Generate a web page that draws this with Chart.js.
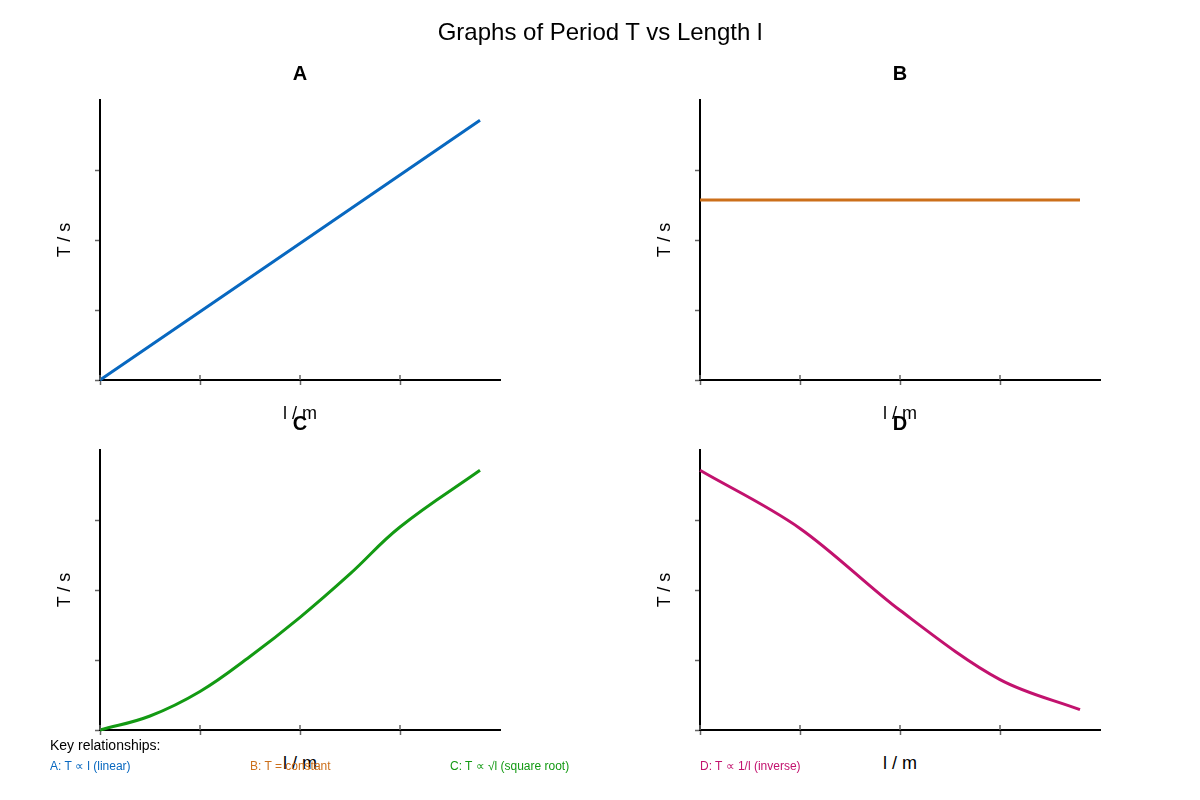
<!DOCTYPE html>
<html>
<head>
<meta charset="utf-8">
<script src="https://cdn.jsdelivr.net/npm/chart.js@4"></script>
<style>
  body { margin: 0; background: #fff; }
  #page { position: relative; width: 1200px; height: 800px; font-family: "Liberation Sans", Arial, sans-serif; }
  .panel { position: absolute; width: 600px; height: 400px; }
  .txt { position: absolute; white-space: nowrap; transform: translate(-50%, -50%); z-index: 5; color: #000; }
  .rot { transform: translate(-50%, -50%) rotate(-90deg); }
  .key { position: absolute; white-space: nowrap; font-size: 12px; transform: translateY(-50%); z-index: 5; }
</style>
</head>
<body>
<div id="page">
  <div class="panel" style="left:0;top:0"><canvas id="chartA" width="600" height="400"></canvas></div>
  <div class="panel" style="left:600px;top:0"><canvas id="chartB" width="600" height="400"></canvas></div>
  <div class="panel" style="left:0;top:350px"><canvas id="chartC" width="600" height="400"></canvas></div>
  <div class="panel" style="left:600px;top:350px"><canvas id="chartD" width="600" height="400"></canvas></div>

  <div class="txt" style="left:600px;top:32px;font-size:24px">Graphs of Period T vs Length l</div>

  <div class="txt" style="left:300px;top:73px;font-size:20px;font-weight:bold">A</div>
  <div class="txt" style="left:900px;top:73px;font-size:20px;font-weight:bold">B</div>
  <div class="txt" style="left:300px;top:423px;font-size:20px;font-weight:bold">C</div>
  <div class="txt" style="left:900px;top:423px;font-size:20px;font-weight:bold">D</div>

  <div class="txt rot" style="left:64px;top:240px;font-size:18px">T / s</div>
  <div class="txt rot" style="left:664px;top:240px;font-size:18px">T / s</div>
  <div class="txt rot" style="left:64px;top:590px;font-size:18px">T / s</div>
  <div class="txt rot" style="left:664px;top:590px;font-size:18px">T / s</div>

  <div class="txt" style="left:300px;top:413px;font-size:18px">l / m</div>
  <div class="txt" style="left:900px;top:413px;font-size:18px">l / m</div>
  <div class="txt" style="left:300px;top:763px;font-size:18px">l / m</div>
  <div class="txt" style="left:900px;top:763px;font-size:18px">l / m</div>

  <div class="key" style="left:50px;top:745px;font-size:14px;color:#000">Key relationships:</div>
  <div class="key" style="left:50px;top:766px;color:#0868c0">A: T ∝ l (linear)</div>
  <div class="key" style="left:250px;top:766px;color:#cc6f1a">B: T = constant</div>
  <div class="key" style="left:450px;top:766px;color:#139a13">C: T ∝ √l (square root)</div>
  <div class="key" style="left:700px;top:766px;color:#c2126e">D: T ∝ 1/l (inverse)</div>
</div>

<script>
// length l (m) and period T (s)
var lenA = [0, 3.8];
var periodA = [0, 3.71];

var lenB = [0, 3.8];
var periodB = [2.57, 2.57];

var lenC = [0, 0.5, 1, 1.5, 2, 2.5, 3, 3.8];
var periodC = [0, 0.2, 0.55, 1.05, 1.61, 2.23, 2.9, 3.71];

var lenD = [0, 1, 2, 3, 3.8];
var periodD = [3.71, 2.88, 1.71, 0.72, 0.29];

var axisMax = 4;
var tickGray = '#666';

function points(xs, ys) {
    return xs.map(function(x, i) { return { x: x, y: ys[i] }; });
}

function tickColor(ctx) {
    return ctx.tick && ctx.tick.value === axisMax ? 'rgba(0,0,0,0)' : tickGray;
}

function axis() {
    return {
        type: 'linear',
        min: 0,
        max: axisMax,
        ticks: { display: false, stepSize: 1 },
        grid: { display: true, drawOnChartArea: false, drawTicks: true, tickLength: 5, tickWidth: 1.5, tickColor: tickColor },
        border: { display: true, color: '#000', width: 2 }
    };
}

// the x ticks also poke a little way into the plot, like the original
var innerTicks = {
    id: 'innerTicks',
    afterDraw: function(chart) {
        var ctx = chart.ctx;
        var xs = chart.scales.x;
        var base = chart.chartArea.bottom;
        ctx.save();
        ctx.strokeStyle = tickGray;
        ctx.lineWidth = 1.5;
        xs.ticks.forEach(function(t) {
            if (t.value === axisMax) return;
            var px = xs.getPixelForValue(t.value);
            ctx.beginPath();
            ctx.moveTo(px, base);
            ctx.lineTo(px, base - 5);
            ctx.stroke();
        });
        ctx.restore();
    }
};

function makeChart(id, xs, ys, color, mode) {
    var ctx = document.getElementById(id).getContext("2d");
    return new Chart(ctx, {
        type: 'line',
        data: {
            datasets: [{
                data: points(xs, ys),
                borderColor: color,
                borderWidth: 3,
                pointRadius: 0,
                tension: 0.4,
                cubicInterpolationMode: mode,
                clip: false
            }]
        },
        options: {
            responsive: false,
            animation: false,
            layout: { padding: { left: 95, top: 100, right: 100, bottom: 15 } },
            plugins: { legend: { display: false }, tooltip: { enabled: false } },
            scales: { x: axis(), y: axis() }
        },
        plugins: [innerTicks]
    });
}

makeChart("chartA", lenA, periodA, "#0868c0", 'monotone');
makeChart("chartB", lenB, periodB, "#cc6f1a", 'monotone');
makeChart("chartC", lenC, periodC, "#139a13", 'default');
makeChart("chartD", lenD, periodD, "#c2126e", 'monotone');
</script>
</body>
</html>
